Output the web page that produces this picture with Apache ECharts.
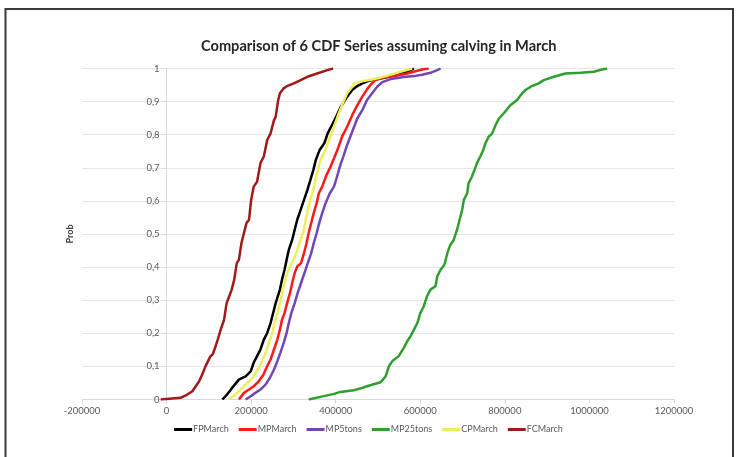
<!DOCTYPE html>
<html>
<head>
<meta charset="utf-8">
<script src="https://cdn.jsdelivr.net/npm/echarts@6/dist/echarts.min.js"></script>
<style>
html,body{margin:0;padding:0;background:#fff;}
#chart{width:737px;height:457px;}
</style>
</head>
<body>
<div id="chart"></div>
<script>
// ---- data (value, cumulative probability) ----
const seriesNames = ['FPMarch','MPMarch','MP5tons','MP25tons','CPMarch','FCMarch'];
const xTicks = [-200000, 0, 200000, 400000, 600000, 800000, 1000000, 1200000];
const yTicks = [0,0.1,0.2,0.3,0.4,0.5,0.6,0.7,0.8,0.9,1];

const FPMarch = [
 [132000,0],[143000,0.015],[155000,0.035],[171000,0.06],[187000,0.07],[199000,0.085],[206000,0.111],
 [214000,0.131],[222000,0.151],[230000,0.181],[238000,0.201],[246000,0.231],[252000,0.261],[258000,0.291],
 [268000,0.332],[273000,0.362],[279000,0.392],[284000,0.422],[289000,0.452],[297000,0.482],[303000,0.513],
 [309000,0.543],[317000,0.573],[325000,0.603],[333000,0.633],[340000,0.663],[347000,0.693],[353000,0.724],
 [362000,0.754],[373000,0.774],[381000,0.804],[393000,0.834],[401000,0.854],[412000,0.884],[427000,0.915],
 [439000,0.935],[451000,0.947],[463000,0.955],[478000,0.963],[506000,0.97],[545000,0.98],[569000,0.99],[585000,1]
];
const MPMarch = [
 [171000,0],[183000,0.02],[195000,0.03],[206000,0.04],[218000,0.055],[229000,0.075],[238000,0.101],
 [246000,0.121],[254000,0.151],[262000,0.181],[268000,0.211],[273000,0.241],[279000,0.261],[285000,0.291],
 [292000,0.322],[297000,0.352],[303000,0.382],[309000,0.402],[318000,0.412],[325000,0.442],[331000,0.472],
 [336000,0.503],[342000,0.533],[348000,0.563],[355000,0.593],[360000,0.623],[368000,0.643],[378000,0.678],
 [388000,0.704],[396000,0.729],[407000,0.764],[415000,0.794],[427000,0.824],[439000,0.859],[451000,0.889],
 [463000,0.915],[474000,0.937],[484000,0.953],[494000,0.965],[514000,0.973],[545000,0.979],[569000,0.985],
 [593000,0.993],[604000,0.997],[620000,1]
];
const MP5tons = [
 [187000,0],[199000,0.01],[210000,0.02],[222000,0.03],[234000,0.045],[244000,0.065],[254000,0.09],
 [262000,0.116],[269000,0.141],[277000,0.171],[284000,0.201],[289000,0.231],[295000,0.261],[303000,0.291],
 [310000,0.322],[318000,0.352],[326000,0.382],[334000,0.412],[342000,0.442],[348000,0.472],[355000,0.503],
 [361000,0.533],[368000,0.563],[376000,0.593],[386000,0.623],[396000,0.643],[403000,0.673],[411000,0.709],
 [418000,0.734],[427000,0.769],[439000,0.809],[451000,0.849],[463000,0.874],[474000,0.905],[486000,0.925],
 [498000,0.945],[510000,0.959],[530000,0.968],[561000,0.974],[585000,0.977],[604000,0.981],[624000,0.987],
 [640000,0.995],[648000,1]
];
const MP25tons = [
 [336000,0],[364000,0.008],[396000,0.017],[411000,0.023],[443000,0.028],[463000,0.035],[474000,0.04],
 [506000,0.052],[518000,0.07],[526000,0.101],[534000,0.116],[549000,0.131],[561000,0.156],[569000,0.176],
 [577000,0.191],[585000,0.211],[593000,0.231],[600000,0.261],[608000,0.281],[616000,0.312],[624000,0.332],
 [636000,0.342],[640000,0.372],[648000,0.392],[657000,0.407],[664000,0.442],[671000,0.467],[679000,0.482],
 [687000,0.513],[693000,0.543],[699000,0.573],[703000,0.603],[711000,0.623],[714000,0.653],[722000,0.673],
 [728000,0.693],[734000,0.714],[742000,0.734],[749000,0.754],[754000,0.774],[762000,0.794],[770000,0.804],
 [778000,0.829],[786000,0.849],[797000,0.864],[813000,0.889],[829000,0.905],[841000,0.925],[849000,0.935],
 [861000,0.945],[880000,0.955],[892000,0.965],[916000,0.975],[943000,0.985],[979000,0.987],[1010000,0.99],
 [1030000,0.997],[1042000,1]
];
const CPMarch = [
 [147000,0],[163000,0.015],[175000,0.03],[187000,0.045],[195000,0.055],[203000,0.065],[210000,0.08],
 [218000,0.095],[226000,0.116],[234000,0.141],[242000,0.171],[250000,0.201],[255000,0.231],[262000,0.261],
 [268000,0.291],[273000,0.322],[279000,0.352],[285000,0.382],[292000,0.402],[301000,0.422],[309000,0.452],
 [317000,0.482],[325000,0.513],[329000,0.543],[334000,0.573],[340000,0.603],[347000,0.633],[352000,0.663],
 [358000,0.693],[364000,0.724],[374000,0.749],[384000,0.784],[396000,0.824],[407000,0.864],[418000,0.899],
 [427000,0.925],[439000,0.945],[443000,0.955],[465000,0.962],[486000,0.967],[506000,0.973],[526000,0.98],
 [553000,0.99],[581000,1]
];
const FCMarch = [
 [-14000,0],[33000,0.005],[49000,0.015],[61000,0.025],[69000,0.04],[77000,0.055],[84000,0.075],[92000,0.1],
 [98000,0.116],[104000,0.131],[109000,0.136],[116000,0.161],[121000,0.181],[128000,0.211],[136000,0.241],
 [142000,0.291],[148000,0.311],[154000,0.332],[160000,0.362],[166000,0.412],[171000,0.422],[177000,0.472],
 [183000,0.503],[189000,0.533],[195000,0.543],[200000,0.603],[206000,0.643],[214000,0.658],[222000,0.714],
 [230000,0.734],[238000,0.784],[246000,0.804],[254000,0.844],[258000,0.854],[264000,0.905],[268000,0.925],
 [277000,0.94],[285000,0.947],[301000,0.955],[317000,0.965],[333000,0.975],[356000,0.985],[380000,0.995],[394000,1]
];
const seriesData = [FPMarch, MPMarch, MP5tons, MP25tons, CPMarch, FCMarch];
const seriesColors = ['#000000','#ff1a1a','#7047b8','#2e9e2e','#eeee5a','#a01a1a'];

const chart = echarts.init(document.getElementById('chart'), null, {renderer:'canvas'});
const labelColor = '#595959';
const gridLeft = 82, gridRight = 63;
// place the y axis where x = 0 (pixel offset computed from the x scale)
const plotW = 737 - gridLeft - gridRight;
const zeroOffset = (0 - xTicks[0]) / (xTicks[xTicks.length-1] - xTicks[0]) * plotW;
chart.setOption({
  animation:false,
  backgroundColor:'#fff',
  title:{
    text:'Comparison of 6 CDF Series assuming calving in March',
    left:201, top:39, padding:0,
    textStyle:{fontFamily:'Lato', fontWeight:'bold', fontSize:14.6, color:'#262626'}
  },
  graphic:[{
    type:'rect', shape:{x:5.5, y:9, width:727.5, height:470},
    style:{fill:'none', stroke:'#3a3a3a', lineWidth:2}, silent:true
  }],
  legend:{
    data:seriesNames, top:420, left:'center',
    icon:'rect', itemWidth:18, itemHeight:3, itemGap:10,
    textStyle:{fontFamily:'Lato', fontSize:9, color:labelColor, padding:[0,0,0,-4]}
  },
  grid:{left:gridLeft, right:gridRight, top:68.5, bottom:57.5, containLabel:false, outerBoundsMode:'none'},
  xAxis:{
    type:'value', min:xTicks[0], max:xTicks[xTicks.length-1], interval:200000,
    axisLine:{show:true, onZero:false, lineStyle:{color:'#d9d9d9', width:1}},
    axisTick:{show:true, length:4, lineStyle:{color:'#d9d9d9'}},
    splitLine:{show:false},
    axisLabel:{fontFamily:'Lato', fontSize:9.5, color:labelColor, margin:6,
      formatter:function(v){ return String(v); }}
  },
  yAxis:{
    type:'value', min:yTicks[0], max:yTicks[yTicks.length-1], interval:0.1,
    offset:-zeroOffset,
    name:'Prob', nameLocation:'middle', nameGap:92, nameRotate:90,
    nameTextStyle:{fontFamily:'Lato', fontWeight:'bold', fontSize:9, color:'#404040'},
    axisLine:{show:true, onZero:false, lineStyle:{color:'#d9d9d9', width:1}},
    axisTick:{show:true, length:4, lineStyle:{color:'#d9d9d9'}},
    splitLine:{show:true, lineStyle:{color:'#e6e6e6', width:1}},
    axisLabel:{fontFamily:'Lato', fontSize:9.5, color:labelColor, margin:7,
      formatter:function(v){ return String(+v.toFixed(1)).replace('.', ','); }}
  },
  series: seriesNames.map(function(n,i){
    return {
      name:n, type:'line', data:seriesData[i], showSymbol:false, symbol:'none',
      lineStyle:{width:2.5, color:seriesColors[i]}, itemStyle:{color:seriesColors[i]},
      z: 2
    };
  })
});
</script>
</body>
</html>
